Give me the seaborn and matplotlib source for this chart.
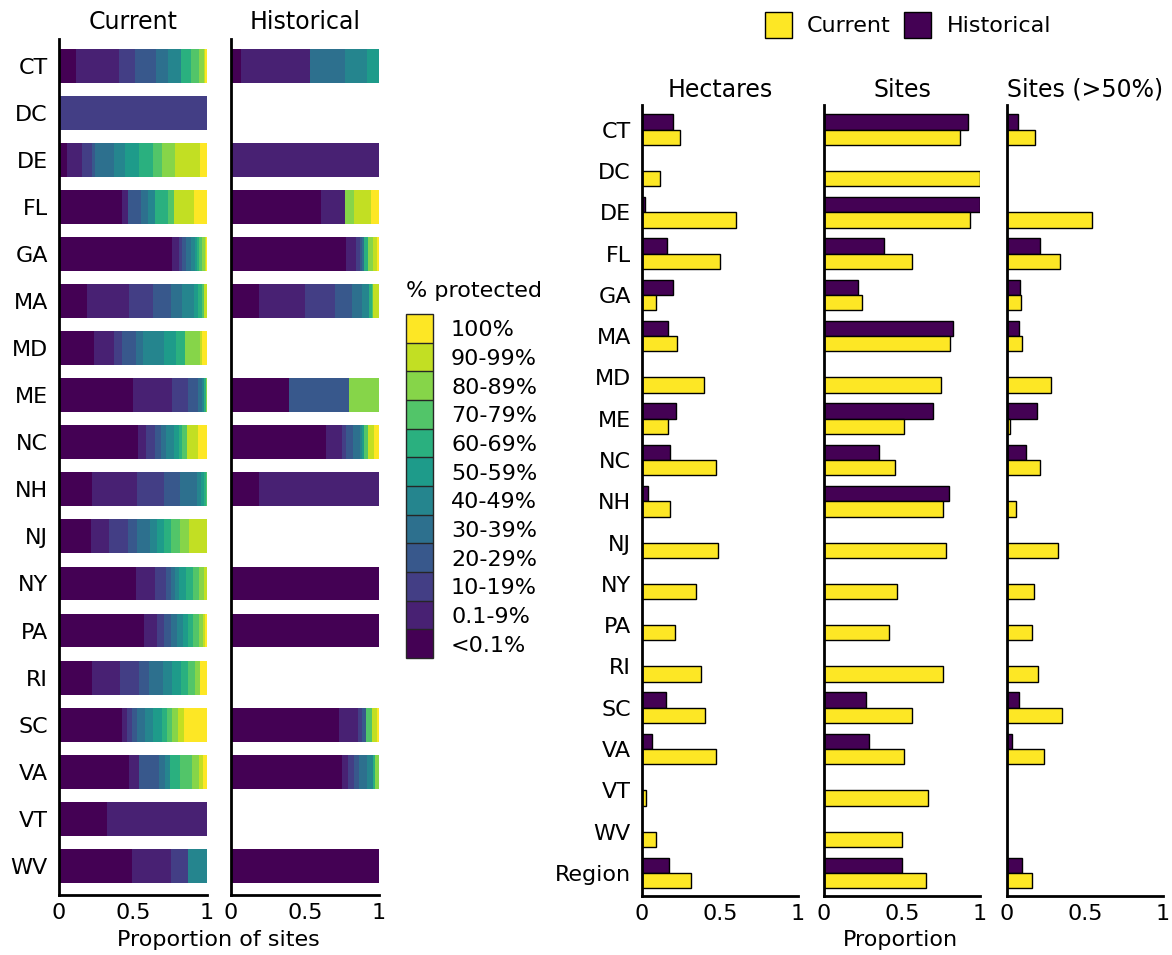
import numpy as np
import pandas as pd
import matplotlib
matplotlib.use("Agg")
import matplotlib.pyplot as plt
import seaborn as sns
from matplotlib.colors import ListedColormap, BoundaryNorm
from matplotlib.patches import Patch

sns.set_theme(style="white")
plt.rcParams['font.family'] = ['DejaVu Sans']
for key in ["text.color", "axes.labelcolor", "xtick.color", "ytick.color"]:
    plt.rcParams[key] = "black"

# ---------------- data ----------------
states = ["CT", "DC", "DE", "FL", "GA", "MA", "MD", "ME", "NC", "NH",
          "NJ", "NY", "PA", "RI", "SC", "VA", "VT", "WV"]
classes = ["<0.1%", "0.1-9%", "10-19%", "20-29%", "30-39%", "40-49%",
           "50-59%", "60-69%", "70-79%", "80-89%", "90-99%", "100%"]

# share of sites (%) in each protection class, order as `classes`
current_share = {
    "CT": [11.6, 29.2, 10.5, 14.1, 8.4, 8.7, 0, 6.8, 5.0, 3.4, 1.1, 1.1],
    "DC": [0, 0, 100, 0, 0, 0, 0, 0, 0, 0, 0, 0],
    "DE": [5.2, 10.5, 6.6, 2.3, 12.8, 7.3, 9.8, 9.1, 6.2, 8.7, 17.1, 4.6],
    "FL": [42.4, 4.6, 0, 8.7, 4.6, 4.6, 0, 8.9, 4.1, 0, 13.2, 9.1],
    "GA": [76.5, 4.6, 1.8, 2.7, 3.6, 2.3, 1.4, 1.8, 1.8, 1.8, 1.1, 0.5],
    "MA": [18.9, 28.7, 15.7, 12.1, 7.5, 8.4, 2.3, 3.0, 1.6, 0, 1.8, 0],
    "MD": [23.7, 13.4, 5.7, 9.1, 4.6, 14.4, 8.2, 5.9, 0, 10.3, 1.1, 3.6],
    "ME": [49.9, 26.2, 11.4, 6.2, 2.7, 1.8, 0, 0.9, 0.5, 0.5, 0, 0],
    "NC": [53.3, 5.5, 6.4, 3.4, 3.4, 5.7, 3.4, 2.3, 3.4, 0, 6.8, 6.4],
    "NH": [22.3, 30.3, 18.5, 10.7, 11.2, 2.7, 2.5, 1.1, 0.7, 0, 0, 0],
    "NJ": [21.9, 12.1, 13.0, 5.7, 8.7, 5.0, 4.6, 4.6, 6.2, 5.9, 12.5, 0],
    "NY": [52.2, 12.5, 7.3, 3.4, 2.7, 3.0, 4.6, 5.0, 4.1, 3.4, 1.8, 0],
    "PA": [57.2, 9.1, 4.6, 4.6, 4.1, 3.9, 3.4, 3.4, 4.1, 2.7, 1.8, 1.1],
    "RI": [22.3, 19.1, 12.3, 6.8, 9.8, 5.9, 5.9, 5.2, 4.6, 3.2, 0, 4.8],
    "SC": [42.4, 3.4, 3.4, 3.4, 5.2, 5.9, 5.9, 3.4, 3.4, 3.9, 4.1, 15.5],
    "VA": [47.4, 6.8, 0, 13.2, 4.1, 3.9, 0, 6.2, 8.2, 5.0, 2.3, 3.0],
    "VT": [32.6, 67.4, 0, 0, 0, 0, 0, 0, 0, 0, 0, 0],
    "WV": [49.2, 26.2, 11.8, 0, 0, 12.8, 0, 0, 0, 0, 0, 0],
}
historical_share = {
    "CT": [6.8, 46.5, 0, 0, 23.5, 15.3, 8.0, 0, 0, 0, 0, 0],
    "DC": [0, 0, 0, 0, 0, 0, 0, 0, 0, 0, 0, 0],
    "DE": [0, 100, 0, 0, 0, 0, 0, 0, 0, 0, 0, 0],
    "FL": [60.8, 16.4, 0, 0, 0, 0, 0, 0, 0, 5.7, 11.6, 5.5],
    "GA": [77.9, 6.4, 2.7, 1.4, 1.4, 0, 0, 3.0, 0, 3.4, 2.3, 1.6],
    "MA": [18.7, 31.4, 20.0, 11.8, 6.2, 5.2, 0, 1.6, 1.1, 0, 3.9, 0],
    "MD": [0, 0, 0, 0, 0, 0, 0, 0, 0, 0, 0, 0],
    "ME": [39.2, 0, 0, 40.5, 0, 0, 0, 0, 0, 20.3, 0, 0],
    "NC": [64.2, 10.9, 2.7, 4.6, 4.6, 1.4, 1.4, 0, 3.0, 0, 3.9, 3.4],
    "NH": [19.1, 80.9, 0, 0, 0, 0, 0, 0, 0, 0, 0, 0],
    "NJ": [0, 0, 0, 0, 0, 0, 0, 0, 0, 0, 0, 0],
    "NY": [100, 0, 0, 0, 0, 0, 0, 0, 0, 0, 0, 0],
    "PA": [100, 0, 0, 0, 0, 0, 0, 0, 0, 0, 0, 0],
    "RI": [0, 0, 0, 0, 0, 0, 0, 0, 0, 0, 0, 0],
    "SC": [72.7, 13.2, 2.7, 2.5, 0, 0, 0, 0, 4.3, 0, 3.4, 1.1],
    "VA": [75.2, 3.9, 3.9, 3.6, 5.0, 4.1, 0, 1.6, 0, 2.7, 0, 0],
    "VT": [0, 0, 0, 0, 0, 0, 0, 0, 0, 0, 0, 0],
    "WV": [100, 0, 0, 0, 0, 0, 0, 0, 0, 0, 0, 0],
}

regions = states + ["Region"]
nan = np.nan
hect_hist = [0.20, nan, 0.02, 0.16, 0.20, 0.165, nan, 0.215, 0.18, 0.04,
             nan, nan, nan, nan, 0.157, 0.065, nan, nan, 0.173]
hect_curr = [0.245, 0.116, 0.60, 0.50, 0.09, 0.225, 0.397, 0.167, 0.477, 0.178,
             0.487, 0.347, 0.21, 0.378, 0.407, 0.475, 0.024, 0.087, 0.313]
sites_hist = [0.925, nan, 1.0, 0.386, 0.217, 0.827, nan, 0.701, 0.352, 0.80,
              nan, nan, nan, nan, 0.27, 0.287, nan, nan, 0.499]
sites_curr = [0.872, 1.0, 0.937, 0.564, 0.241, 0.807, 0.747, 0.516, 0.458, 0.764,
              0.783, 0.47, 0.419, 0.764, 0.564, 0.513, 0.665, 0.499, 0.653]
s50_hist = [0.068, nan, nan, 0.213, 0.085, 0.077, nan, 0.194, 0.119, nan,
            nan, nan, nan, nan, 0.08, 0.034, nan, nan, 0.094]
s50_curr = [0.18, nan, 0.547, 0.339, 0.087, 0.099, 0.283, 0.017, 0.213, 0.06,
            0.327, 0.174, 0.16, 0.196, 0.351, 0.235, nan, nan, 0.16]

xtick_vals = [0, 0.5, 1]
xtick_labels = ["0", "0.5", "1"]

# ---------------- style ----------------
class_colors = [matplotlib.colormaps["viridis"](i / 11) for i in range(12)]
col_curr = "#fde725"
col_hist = "#440154"
FS = 16
FT = 17

W, H = 1172, 955
fig = plt.figure(figsize=(W / 100, H / 100), dpi=100)


def ax_px(x0, y0, x1, y1):
    return fig.add_axes([x0 / W, 1 - y1 / H, (x1 - x0) / W, (y1 - y0) / H])


def style_axis(ax, show_y):
    for s in ["top", "right"]:
        ax.spines[s].set_visible(False)
    for s in ["left", "bottom"]:
        ax.spines[s].set_visible(True)
        ax.spines[s].set_color("black")
        ax.spines[s].set_linewidth(2)
    ax.set_xlim(0, 1)
    ax.set_xticks(xtick_vals)
    ax.set_xticklabels(xtick_labels, fontsize=FS)
    ax.tick_params(axis="both", length=0, pad=6)
    ax.set_xlabel("")
    ax.set_ylabel("")
    if show_y:
        ax.tick_params(axis="y", labelsize=FS, pad=8)
    else:
        ax.set_yticklabels([])


def stacked(ax, share):
    mat = np.array([share[s] for s in states], dtype=float)
    tot = mat.sum(axis=1, keepdims=True)
    tot[tot == 0] = 1
    cum = np.cumsum(mat / tot, axis=1)
    for k in range(11, -1, -1):
        vals = cum[:, k].copy()
        vals[mat.sum(axis=1) == 0] = np.nan
        df = pd.DataFrame({"state": states, "v": vals})
        sns.barplot(data=df, x="v", y="state", order=states, orient="h",
                    color=class_colors[k], saturation=1, width=0.72,
                    edgecolor="none", linewidth=0, errorbar=None, ax=ax)


# left panels
axc = ax_px(59, 39, 207, 895)
stacked(axc, current_share)
axc.set_ylim(17.62, -0.57)
style_axis(axc, True)
axc.set_title("Current", fontsize=FT, pad=7)

axh = ax_px(231, 39, 379, 895)
stacked(axh, historical_share)
axh.set_ylim(17.62, -0.57)
style_axis(axh, False)
axh.set_title("Historical", fontsize=FT, pad=7)

fig.text(218 / W, 1 - 940 / H, "Proportion of sites", fontsize=FS,
         ha="center", va="center")

# class legend as discrete colour key
cax = ax_px(406, 314, 433, 658)
cmap = ListedColormap(class_colors)
norm = BoundaryNorm(np.arange(13), 12)
cb = matplotlib.colorbar.ColorbarBase(cax, cmap=cmap, norm=norm,
                                      orientation="vertical", drawedges=True)
cb.set_ticks(np.arange(12) + 0.5)
cb.set_ticklabels(classes)
cb.ax.minorticks_off()
cb.ax.tick_params(which="both", length=0, width=0, labelsize=FS, pad=13)
cb.outline.set_linewidth(1)
cb.dividers.set_linewidth(1)
cb.dividers.set_clip_on(True)
fig.text(406 / W, 1 - 291 / H, "% protected", fontsize=FS, ha="left", va="center")

# right panels
panels = [("Hectares", hect_hist, hect_curr, 642),
          ("Sites", sites_hist, sites_curr, 824),
          ("Sites (>50%)", s50_hist, s50_curr, 1007)]
for i, (title, hv, cv, x0) in enumerate(panels):
    ax = ax_px(x0, 105, x0 + 156, 896)
    df = pd.DataFrame({
        "region": regions * 2,
        "period": ["Historical"] * len(regions) + ["Current"] * len(regions),
        "value": list(hv) + list(cv),
    })
    sns.barplot(data=df, x="value", y="region", hue="period", order=regions,
                hue_order=["Historical", "Current"],
                palette={"Historical": col_hist, "Current": col_curr},
                orient="h", saturation=1, width=0.74, edgecolor="black",
                linewidth=1, errorbar=None, legend=False, ax=ax)
    ax.set_ylim(18.56, -0.6)
    style_axis(ax, i == 0)
    ax.set_title(title, fontsize=FT, pad=6)

fig.text(900 / W, 1 - 940 / H, "Proportion", fontsize=FS, ha="center", va="center")

handles = [Patch(facecolor=col_curr, edgecolor="black", linewidth=1, label="Current"),
           Patch(facecolor=col_hist, edgecolor="black", linewidth=1, label="Historical")]
fig.legend(handles=handles, loc="center", bbox_to_anchor=(908 / W, 1 - 25 / H),
           ncol=2, frameon=False, fontsize=FS, handlelength=1.2, handleheight=1.4,
           handletextpad=0.7, columnspacing=0.6)

fig.savefig("out.png", dpi=100)
